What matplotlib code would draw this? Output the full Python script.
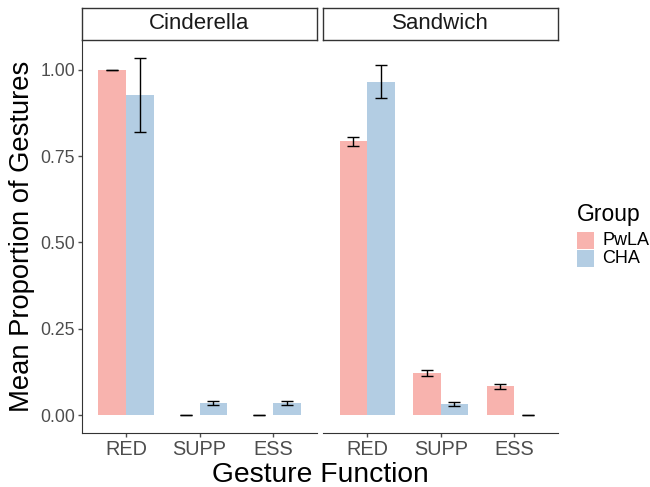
import numpy as np
import matplotlib
matplotlib.use("Agg")
import matplotlib.pyplot as plt
from matplotlib.patches import Rectangle

plt.rcParams['font.family'] = ['Liberation Sans', 'DejaVu Sans']

stories = ["Cinderella", "Sandwich"]
functions = ["RED", "SUPP", "ESS"]
groups = ["PwLA", "CHA"]

# mean proportion per story -> group -> function
means = {
    "Cinderella": {"PwLA": [1.000, 0.000, 0.000], "CHA": [0.927, 0.035, 0.035]},
    "Sandwich": {"PwLA": [0.793, 0.123, 0.083], "CHA": [0.966, 0.033, 0.000]},
}
errs = {
    "Cinderella": {"PwLA": [0.001, 0.000, 0.000], "CHA": [0.107, 0.007, 0.007]},
    "Sandwich": {"PwLA": [0.013, 0.009, 0.007], "CHA": [0.047, 0.006, 0.000]},
}
colors = {"PwLA": "#F8B3AE", "CHA": "#B3CDE3"}

fig = plt.figure(figsize=(6.5, 4.87), dpi=100)
W, H = 650, 487
axis_col = "#333333"
tick_col = "#4D4D4D"

panel_left = [0.126, 0.497]
panel_w = 0.362
bottom, height = 0.111, 0.807
strip_h = 0.066

width = 0.75
x = np.arange(1, len(functions) + 1)
ymax = 1.035
for i, story in enumerate(stories):
    ax = fig.add_axes([panel_left[i], bottom, panel_w, height])
    for j, g in enumerate(groups):
        off = (j - 0.5) * width / 2
        ax.bar(x + off, means[story][g], width=width / 2, color=colors[g], zorder=1)
        ax.errorbar(x + off, means[story][g], yerr=errs[story][g], fmt="none",
                    ecolor="black", elinewidth=1.0, capsize=4, capthick=1.0, zorder=2)
    ax.set_xlim(0.4, 3.6)
    ax.set_ylim(-0.05 * ymax, ymax * 1.05)
    ax.set_xticks(x)
    ax.set_xticklabels(functions, fontsize=14.3, color=tick_col)
    ax.spines["top"].set_visible(False)
    ax.spines["right"].set_visible(False)
    ax.spines["bottom"].set_color(axis_col)
    ax.spines["left"].set_color(axis_col)
    ax.tick_params(axis="both", color=tick_col, length=3, width=1, pad=2)
    if i == 0:
        ax.set_yticks([0, 0.25, 0.5, 0.75, 1.0])
        ax.set_yticklabels(["0.00", "0.25", "0.50", "0.75", "1.00"], fontsize=12.7, color=tick_col)
        ax.set_ylabel("Mean Proportion of Gestures", fontsize=19.7, labelpad=4)
    else:
        ax.spines["left"].set_visible(False)
        ax.set_yticks([])

    # facet strip
    sax = fig.add_axes([panel_left[i], bottom + height, panel_w, strip_h])
    sax.set_xticks([])
    sax.set_yticks([])
    for s in sax.spines.values():
        s.set_color(axis_col)
        s.set_linewidth(1.0)
    sax.text(0.5, 0.5, story, ha="center", va="center", fontsize=16, color="#1A1A1A",
             transform=sax.transAxes)

fig.text((panel_left[0] + panel_left[1] + panel_w) / 2, 1 - 482 / H, "Gesture Function",
         ha="center", va="baseline", fontsize=20.3)

# legend drawn by hand in figure pixels
fig.text(577 / W, 1 - 215 / H, "Group", ha="left", va="center", fontsize=16.5)
for k, g in enumerate(groups):
    top = 232 + k * 18
    fig.patches.append(Rectangle((577 / W, 1 - (top + 17) / H), 17 / W, 17 / H,
                                 transform=fig.transFigure, facecolor=colors[g],
                                 edgecolor="none"))
    fig.text(602 / W, 1 - (top + 8.5) / H, g, ha="left", va="center", fontsize=13)

fig.savefig("out.png", dpi=100)
